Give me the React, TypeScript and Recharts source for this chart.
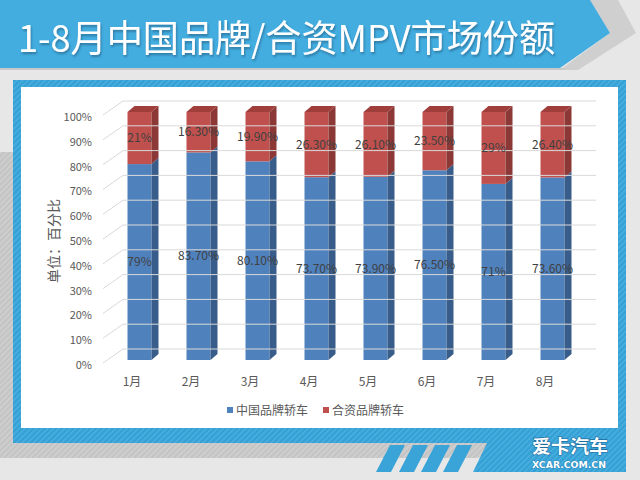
import React from 'react';
import { BarChart, Bar, XAxis, YAxis, Legend, LabelList } from 'recharts';

const months = ['1月', '2月', '3月', '4月', '5月', '6月', '7月', '8月'];
const chinaBrand = [79, 83.7, 80.1, 73.7, 73.9, 76.5, 71, 73.6];
const jointVenture = [21, 16.3, 19.9, 26.3, 26.1, 23.5, 29, 26.4];
const yTicks = [0, 10, 20, 30, 40, 50, 60, 70, 80, 90, 100];
const seriesNames = ['中国品牌轿车', '合资品牌轿车'];

const data = months.map((m, i) => ({ month: m, china: chinaBrand[i], jv: jointVenture[i] }));

const FONT = '"Noto Sans CJK SC", "Noto Sans", sans-serif';
const PLOT_LEFT = 109.5;
const PLOT_RIGHT = 581.5;
const PLOT_BOTTOM = 360;

// 3D 偏移
const DX = 7;
const DY = 6;

const fmt = (v: any) => (Number.isInteger(v) ? `${v}%` : `${Number(v).toFixed(2)}%`);

function Bar3D(props: any) {
  const { x, y, width, height, fill, side, top } = props;
  if (width == null || height == null) return null;
  const r = x + width;
  return (
    <g>
      <rect x={x} y={y} width={width} height={height} fill={fill} />
      <polygon
        points={`${r},${y} ${r + DX},${y - DY} ${r + DX},${y + height - DY} ${r},${y + height}`}
        fill={side}
      />
      {top && (
        <polygon points={`${x},${y} ${x + DX},${y - DY} ${r + DX},${y - DY} ${r},${y}`} fill={top} />
      )}
    </g>
  );
}

function YTick(props: any) {
  const { y, payload } = props;
  const by = y - 11;
  return (
    <g>
      <text x={92} y={y + 9} textAnchor="end" fontSize={11} fill="#595959">
        {payload.value}%
      </text>
      <polyline
        points={`${PLOT_LEFT - 6.5},${y + 3} ${PLOT_LEFT + 13.5},${by} ${PLOT_RIGHT + 14.5},${by}`}
        fill="none"
        stroke="#d9d9d9"
        strokeWidth={1}
      />
    </g>
  );
}

function XTick(props: any) {
  const { x, payload } = props;
  return (
    <text x={x - 7} y={PLOT_BOTTOM + 26} textAnchor="middle" fontSize={12} fill="#595959">
      {payload.value}
    </text>
  );
}

function YLabel(props: any) {
  const vb = props.viewBox || { x: 9.5, y: 112, width: 100, height: 248 };
  const cx = vb.x + 43.5;
  const cy = vb.y + vb.height / 2 + 5;
  return (
    <text
      x={cx}
      y={cy}
      textAnchor="middle"
      dominantBaseline="central"
      fontSize={14}
      fill="#595959"
      transform={`rotate(-90, ${cx}, ${cy})`}
    >
      单位：百分比
    </text>
  );
}

function LegendContent(props: any) {
  const items = props.payload || [];
  return (
    <div style={{ display: 'flex', justifyContent: 'center', paddingLeft: 6, fontSize: 12, color: '#595959' }}>
      {items.map((it: any) => (
        <div key={it.value} style={{ display: 'flex', alignItems: 'center', marginRight: 15 }}>
          <span style={{ width: 6, height: 6, background: it.color, marginRight: 3, display: 'inline-block' }} />
          <span>{it.value}</span>
        </div>
      ))}
    </div>
  );
}

function Background() {
  return (
    <svg width={640} height={480} style={{ position: 'absolute', left: 0, top: 0 }}>
      <defs>
        <pattern id="blueHatch" width="4" height="4" patternUnits="userSpaceOnUse" patternTransform="rotate(45)">
          <rect width="4" height="4" fill="#34a0d4" />
          <rect width="1.4" height="4" fill="#4cb1e2" />
        </pattern>
        <pattern id="grayHatch" width="4" height="4" patternUnits="userSpaceOnUse" patternTransform="rotate(45)">
          <rect width="4" height="4" fill="#c4c4c4" />
          <rect width="1.4" height="4" fill="#d2d2d2" />
        </pattern>
        <filter id="shadow" x="-5%" y="-20%" width="110%" height="150%">
          <feDropShadow dx="1" dy="2" stdDeviation="1" floodColor="#1b4f70" floodOpacity="0.55" />
        </filter>
      </defs>
      <rect width={640} height={480} fill="#e7e7e7" />
      {/* 左侧灰色斜纹 */}
      <polygon points="0,152 500,152 500,443 478,458 0,458" fill="url(#grayHatch)" />
      {/* 蓝色外框 */}
      <rect x={13} y={80} width={613} height={363} fill="url(#blueHatch)" />
      <polygon points="487,443 626,443 626,472 473,472" fill="url(#blueHatch)" />
      {[390, 413, 435, 457].map((sx) => (
        <polygon
          key={sx}
          points={`${sx},445 ${sx + 15},445 ${sx + 1},472 ${sx - 14},472`}
          fill="#3aa4d8"
        />
      ))}
      <rect x={21} y={87} width={597} height={341} fill="#ffffff" />
      {/* 标题横幅 */}
      <polygon points="588,0 618,0 636,33 578,70 560,70 610,33" fill="#cfcfcf" />
      <rect x={0} y={68} width={565} height={2} fill="#c9c9c9" />
      <polygon points="0,0 590,0 610,33 560,68 0,68" fill="#43ade0" />
      <text
        x={18}
        y={52}
        fill="#ffffff"
        fontSize={37}
        fontFamily={FONT}
        textLength={537}
        lengthAdjust="spacingAndGlyphs"
        filter="url(#shadow)"
      >
        1-8月中国品牌/合资MPV市场份额
      </text>
      {/* 水印 */}
      <text
        x={532}
        y={453}
        fontSize={18}
        fontWeight="bold"
        fontFamily={FONT}
        fill="#ffffff"
        stroke="#1f6b9e"
        strokeWidth={1.2}
        paintOrder="stroke"
        textLength={76}
        lengthAdjust="spacingAndGlyphs"
      >
        爱卡汽车
      </text>
      <text
        x={532}
        y={468}
        fontSize={9}
        fontWeight="bold"
        fontFamily='"DejaVu Sans", sans-serif'
        fill="#ffffff"
        stroke="#1f6b9e"
        strokeWidth={0.6}
        paintOrder="stroke"
        textLength={74}
        lengthAdjust="spacingAndGlyphs"
      >
        XCAR.COM.CN
      </text>
    </svg>
  );
}

export default function App() {
  return (
    <div style={{ position: 'absolute', left: 0, top: 0, width: 640, height: 480, fontFamily: FONT }}>
      <Background />
      <div style={{ position: 'absolute', left: 0, top: 0 }}>
        <BarChart
          width={640}
          height={480}
          data={data}
          barSize={24}
          margin={{ top: 112, right: 640 - PLOT_RIGHT, bottom: 90, left: 9.5 }}
        >
          <YAxis
            width={100}
            domain={[0, 100]}
            ticks={yTicks}
            axisLine={false}
            tickLine={false}
            tick={<YTick />}
            label={{ value: '单位：百分比', content: (p: any) => <YLabel {...p} /> }}
          />
          <XAxis dataKey="month" height={30} axisLine={false} tickLine={false} tick={<XTick />} />
          <Legend
            layout="horizontal"
            verticalAlign="middle"
            align="center"
            wrapperStyle={{ top: 401, left: 0, width: 640 }}
            content={<LegendContent />}
          />
          <Bar
            dataKey="china"
            name={seriesNames[0]}
            stackId="a"
            fill="#4f81bd"
            isAnimationActive={false}
            shape={(p: any) => <Bar3D {...p} side="#385d8a" />}
          >
            <LabelList dataKey="china" position="center" formatter={fmt} fill="#404040" fontSize={12} />
          </Bar>
          <Bar
            dataKey="jv"
            name={seriesNames[1]}
            stackId="a"
            fill="#c0504d"
            isAnimationActive={false}
            shape={(p: any) => <Bar3D {...p} side="#8c3836" top="#a03e3b" />}
          >
            <LabelList dataKey="jv" position="center" formatter={fmt} fill="#404040" fontSize={12} />
          </Bar>
        </BarChart>
      </div>
    </div>
  );
}
